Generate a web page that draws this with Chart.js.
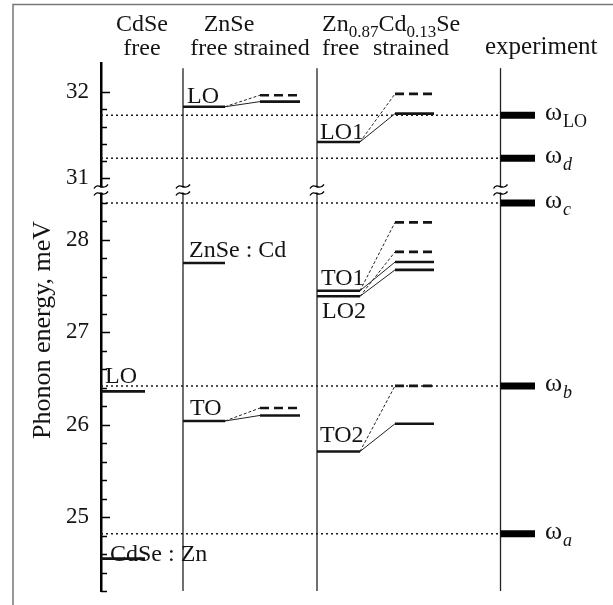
<!DOCTYPE html>
<html><head><meta charset="utf-8">
<script src="https://cdn.jsdelivr.net/npm/chart.js@4"></script>
<style>html,body{margin:0;padding:0;background:#fff}canvas{display:block}</style>
</head><body>
<canvas id="c" width="613" height="605"></canvas>
<script>
// ---------------- data (phonon energies, meV) ----------------
const cdseLevelNames = ['LO', 'CdSe : Zn'];
const cdseFree = [26.36, 24.55];

const znseLevelNames = ['LO', 'TO'];
const znseFree = [31.83, 26.04];
const znseStrainedSolid = [31.89, 26.10];
const znseStrainedDashed = [31.965, 26.18];
const znseCdName = ['ZnSe : Cd'];
const znseCdLevel = [27.75];

const alloyLevelNames = ['LO1', 'TO1', 'LO2', 'TO2'];
const alloyFree = [31.42, 27.45, 27.39, 25.71];
const alloyStrainedSolid = [31.75, 27.76, 27.675, 26.01];
const alloyStrainedDashed = [31.98, 28.19, 27.87, 26.42];

const expNames = ['LO', 'd', 'c', 'b', 'a'];
const expValues = [31.73, 31.23, 28.40, 26.42, 24.82];

const upperTickLabels = [31, 32];
const lowerTickLabels = [25, 26, 27, 28];

// ---------------- layout ----------------
const UPPER = {min: 30.86, max: 32.34, tickFrom: 31, tickTo: 32, lineTop: 32.28};
const LOWER = {min: 24.2, max: 28.54, tickFrom: 24.2, tickTo: 28.4};
const BREAK = 29.5;
const COL = {
  cdse:  {free: [0, 44]},
  znse:  {line: 82, free: [82, 124], strained: [159, 199]},
  alloy: {line: 216, free: [216, 259], strained: [294, 333]},
  exp:   {line: 399.5, bar: [399.5, 434], label: 444}
};
const FONT = '"Liberation Serif", "Times New Roman", serif';
const INK = '#141414';

const LEVEL = {borderColor: INK, borderWidth: 2.6};
const LEVEL_DASH = {borderColor: INK, borderWidth: 2.6, borderDash: [9, 5]};
const LINK = {borderColor: '#222', borderWidth: 1};
const LINK_DASH = {borderColor: '#222', borderWidth: 1, borderDash: [3, 2]};
const DOT = {borderColor: '#1a1a1a', borderWidth: 1.5, borderDash: [2, 3]};
const BAR = {borderColor: '#000', borderWidth: 7};
const VLINE = {borderColor: '#222', borderWidth: 1.3};

const axisFor = v => (v > BREAK ? 'yT' : 'yB');
const datasets = [];
function seg(x0, y0, x1, y1, style, axis) {
  datasets.push(Object.assign({
    data: [{x: x0, y: y0}, {x: x1, y: y1}],
    yAxisID: axis || axisFor(y0),
    showLine: true, pointRadius: 0, fill: false, borderCapStyle: 'butt'
  }, style));
}

// experiment bars + dotted guide lines
expValues.forEach(v => {
  seg(0, v, COL.exp.line, v, DOT);
  seg(COL.exp.bar[0], v, COL.exp.bar[1], v, BAR);
});
// CdSe free
cdseFree.forEach(v => seg(COL.cdse.free[0], v, COL.cdse.free[1], v, LEVEL));
// ZnSe
znseFree.forEach((v, i) => {
  seg(COL.znse.free[0], v, COL.znse.free[1], v, LEVEL);
  seg(COL.znse.free[1], v, COL.znse.strained[0], znseStrainedSolid[i], LINK);
  seg(COL.znse.free[1], v, COL.znse.strained[0], znseStrainedDashed[i], LINK_DASH);
  seg(COL.znse.strained[0], znseStrainedSolid[i], COL.znse.strained[1], znseStrainedSolid[i], LEVEL);
  seg(COL.znse.strained[0], znseStrainedDashed[i], COL.znse.strained[1], znseStrainedDashed[i], LEVEL_DASH);
});
znseCdLevel.forEach(v => seg(COL.znse.free[0], v, COL.znse.free[1], v, LEVEL));
// Zn0.87Cd0.13Se
alloyFree.forEach((v, i) => {
  seg(COL.alloy.free[0], v, COL.alloy.free[1], v, LEVEL);
  seg(COL.alloy.free[1], v, COL.alloy.strained[0], alloyStrainedSolid[i], LINK);
  seg(COL.alloy.free[1], v, COL.alloy.strained[0], alloyStrainedDashed[i], LINK_DASH);
  seg(COL.alloy.strained[0], alloyStrainedSolid[i], COL.alloy.strained[1], alloyStrainedSolid[i], LEVEL);
  seg(COL.alloy.strained[0], alloyStrainedDashed[i], COL.alloy.strained[1], alloyStrainedDashed[i], LEVEL_DASH);
});
// column separator lines (both axis segments)
[COL.znse.line, COL.alloy.line, COL.exp.line].forEach(x => {
  seg(x, UPPER.min, x, UPPER.lineTop, VLINE, 'yT');
  seg(x, LOWER.min, x, LOWER.max, VLINE, 'yB');
});

// level labels: [text, value, x unit, baseline offset px]
const levelLabels = [
  [cdseLevelNames[0], cdseFree[0], 4, -8],
  [cdseLevelNames[1], cdseFree[1], 9, 2],
  [znseLevelNames[0], znseFree[0], 86, -4],
  [znseLevelNames[1], znseFree[1], 89, -6],
  [znseCdName[0], znseCdLevel[0], 88, -6],
  [alloyLevelNames[0], alloyFree[0], 219, -3],
  [alloyLevelNames[1], alloyFree[1], 220, -6],
  [alloyLevelNames[2], alloyFree[2], 221, 22],
  [alloyLevelNames[3], alloyFree[3], 219, -9]
];

const yScaleCommon = {
  type: 'linear', position: 'left', stack: 'energy',
  grid: {display: false, drawTicks: false},
  border: {display: true, color: '#000', width: 2.5},
  ticks: {padding: 12, color: INK, font: {family: FONT, size: 23}},
  afterFit: s => { s.width = 101; s.paddingTop = 0; s.paddingBottom = 0; }
};

const decor = {
  id: 'decor',
  afterDraw(chart) {
    const ctx = chart.ctx, xs = chart.scales.x, yT = chart.scales.yT, yB = chart.scales.yB;
    const ax = chart.chartArea.left;
    ctx.save();
    // frame
    ctx.strokeStyle = '#777'; ctx.lineWidth = 1.5;
    ctx.beginPath(); ctx.moveTo(13, 605); ctx.lineTo(13, 4.5); ctx.lineTo(613, 4.5); ctx.stroke();
    // tick marks (inward)
    ctx.strokeStyle = '#000'; ctx.lineWidth = 1.5;
    [[yT, UPPER], [yB, LOWER]].forEach(([sc, r]) => {
      for (let v = r.tickFrom; v <= r.tickTo + 1e-6; v += 0.2) {
        const y = Math.round(sc.getPixelForValue(v)) + 0.5;
        const major = Math.abs(v - Math.round(v)) < 1e-6;
        ctx.beginPath(); ctx.moveTo(ax, y); ctx.lineTo(ax + (major ? 9 : 6), y); ctx.stroke();
      }
    });
    // break marks
    const yb = yT.bottom;
    [0, COL.znse.line, COL.alloy.line, COL.exp.line].forEach(u => {
      const cx = xs.getPixelForValue(u);
      ctx.fillStyle = '#fff';
      ctx.fillRect(cx - 4, yb - 2.5, 8, 5);
      ctx.strokeStyle = '#000'; ctx.lineWidth = 1.4;
      [yb - 3.5, yb + 3.5].forEach(cy => {
        ctx.beginPath();
        ctx.moveTo(cx - 7, cy + 2);
        ctx.bezierCurveTo(cx - 3, cy - 5, cx + 2, cy + 5, cx + 7, cy - 2);
        ctx.stroke();
      });
    });
    // level labels
    ctx.fillStyle = INK; ctx.textBaseline = 'alphabetic'; ctx.textAlign = 'left';
    ctx.font = `24px ${FONT}`;
    levelLabels.forEach(([t, v, u, dy]) => {
      const sc = chart.scales[axisFor(v)];
      ctx.fillText(t, xs.getPixelForValue(u), sc.getPixelForValue(v) + dy);
    });
    // experiment labels
    expValues.forEach((v, i) => {
      const sc = chart.scales[axisFor(v)];
      const y = sc.getPixelForValue(v);
      const x = xs.getPixelForValue(COL.exp.label);
      ctx.font = `26px ${FONT}`;
      ctx.fillText('ω', x, y + 5);
      const w = ctx.measureText('ω').width;
      ctx.font = (expNames[i] === 'LO' ? '' : 'italic ') + `18px ${FONT}`;
      ctx.fillText(expNames[i], x + w + 1, y + 12);
    });
    // column headers
    ctx.font = `24px ${FONT}`; ctx.textAlign = 'center';
    ctx.fillText('CdSe', 142, 31);
    ctx.fillText('free', 142, 55);
    ctx.fillText('ZnSe', 229, 31);
    ctx.fillText('free strained', 250, 55);
    ctx.textAlign = 'left';
    ctx.fillText('free', 322, 55);
    ctx.fillText('strained', 373, 55);
    ctx.font = `25px ${FONT}`;
    ctx.fillText('experiment', 485, 54);
    let hx = 322;
    [['Zn', 0], ['0.87', 1], ['Cd', 0], ['0.13', 1], ['Se', 0]].forEach(([t, sub]) => {
      ctx.font = (sub ? '17px ' : '24px ') + FONT;
      ctx.fillText(t, hx, sub ? 37 : 31);
      hx += ctx.measureText(t).width;
    });
    // axis title
    ctx.save();
    ctx.translate(50, 330); ctx.rotate(-Math.PI / 2);
    ctx.textAlign = 'center'; ctx.font = `26px ${FONT}`;
    ctx.fillText('Phonon energy, meV', 0, 0);
    ctx.restore();
    ctx.restore();
  }
};

new Chart(document.getElementById('c'), {
  type: 'scatter',
  data: {datasets},
  options: {
    responsive: false, animation: false, devicePixelRatio: 1,
    layout: {padding: {left: 0, right: 0, top: 63, bottom: 14}},
    plugins: {legend: {display: false}, tooltip: {enabled: false}},
    scales: {
      x: {type: 'linear', min: 0, max: 512, display: false},
      yB: Object.assign({}, yScaleCommon, {
        min: LOWER.min, max: LOWER.max, stackWeight: 401,
        afterBuildTicks: s => { s.ticks = lowerTickLabels.map(v => ({value: v})); }
      }),
      yT: Object.assign({}, yScaleCommon, {
        min: UPPER.min, max: UPPER.max, stackWeight: 127,
        afterBuildTicks: s => { s.ticks = upperTickLabels.map(v => ({value: v})); }
      })
    }
  },
  plugins: [decor]
});
</script>
</body></html>
